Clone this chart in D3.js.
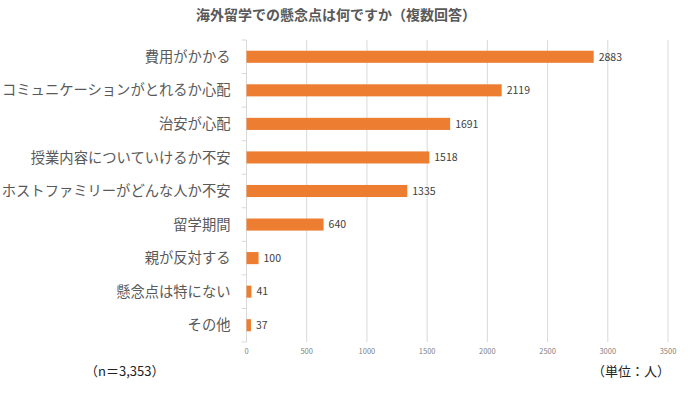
<!DOCTYPE html>
<html>
<head>
<meta charset="utf-8">
<script src="https://cdn.jsdelivr.net/npm/d3@7"></script>
<style>
  body { margin: 0; background: #fff; }
  text { font-family: "Noto Sans CJK JP", "Noto Sans", sans-serif; }
</style>
</head>
<body>
<div id="chart"></div>
<script>
const categories = [
  "費用がかかる",
  "コミュニケーションがとれるか心配",
  "治安が心配",
  "授業内容についていけるか不安",
  "ホストファミリーがどんな人か不安",
  "留学期間",
  "親が反対する",
  "懸念点は特にない",
  "その他"
];
const values = [2883, 2119, 1691, 1518, 1335, 640, 100, 41, 37];
const xTicks = [0, 500, 1000, 1500, 2000, 2500, 3000, 3500];

const width = 700, height = 394;
const margin = { top: 40, right: 32, bottom: 52, left: 246.5 };

const svg = d3.select("#chart")
    .append("svg")
    .attr("width", width)
    .attr("height", height);

const x = d3.scaleLinear()
    .domain([0, 3500])
    .range([margin.left, width - margin.right]);

const y = d3.scaleBand()
    .domain(categories)
    .range([margin.top, height - margin.bottom])
    .paddingInner(0.64)
    .paddingOuter(0.32);

// gridlines
svg.append("g")
    .selectAll("line")
    .data(xTicks.slice(1))
    .join("line")
    .attr("x1", d => x(d)).attr("x2", d => x(d))
    .attr("y1", margin.top).attr("y2", height - margin.bottom)
    .attr("stroke", "#d9d9d9")
    .attr("stroke-width", 1);

// x tick labels
svg.append("g")
    .selectAll("text")
    .data(xTicks)
    .join("text")
    .attr("x", d => x(d))
    .attr("y", height - margin.bottom + 12)
    .attr("text-anchor", "middle")
    .attr("font-size", 7.5)
    .attr("fill", "#7f7f7f")
    .text(d => d);

// y axis line + category separators
const sepData = d3.range(categories.length + 1).map(i => margin.top + i * (height - margin.top - margin.bottom) / categories.length);
svg.append("line")
    .attr("x1", x(0)).attr("x2", x(0))
    .attr("y1", margin.top).attr("y2", height - margin.bottom)
    .attr("stroke", "#d9d9d9");
svg.append("g")
    .selectAll("line")
    .data(sepData)
    .join("line")
    .attr("x1", x(0) - 5).attr("x2", x(0))
    .attr("y1", d => d).attr("y2", d => d)
    .attr("stroke", "#d9d9d9");

// category labels
svg.append("g")
    .selectAll("text")
    .data(categories)
    .join("text")
    .attr("x", x(0) - 16)
    .attr("y", d => y(d) + y.bandwidth() / 2)
    .attr("dy", "0.36em")
    .attr("text-anchor", "end")
    .attr("font-size", 14.3)
    .attr("fill", "#595959")
    .text(d => d);

// bars
svg.append("g")
    .selectAll("rect")
    .data(values)
    .join("rect")
    .attr("x", x(0))
    .attr("y", (d, i) => y(categories[i]))
    .attr("width", d => x(d) - x(0))
    .attr("height", y.bandwidth())
    .attr("fill", "#ed7d31");

// value labels
svg.append("g")
    .selectAll("text")
    .data(values)
    .join("text")
    .attr("x", d => x(d) + 5)
    .attr("y", (d, i) => y(categories[i]) + y.bandwidth() / 2)
    .attr("dy", "0.36em")
    .attr("font-size", 10.5)
    .attr("fill", "#404040")
    .text(d => d);

// title
svg.append("text")
    .attr("x", 336)
    .attr("y", 20)
    .attr("text-anchor", "middle")
    .attr("font-size", 14)
    .attr("font-weight", "bold")
    .attr("fill", "#595959")
    .text("海外留学での懸念点は何ですか（複数回答）");

// footer notes
svg.append("text")
    .attr("x", 85)
    .attr("y", 376)
    .attr("font-size", 13)
    .attr("fill", "#222")
    .text("（n＝3,353）");
svg.append("text")
    .attr("x", 670)
    .attr("y", 376)
    .attr("text-anchor", "end")
    .attr("font-size", 13)
    .attr("fill", "#222")
    .text("（単位：人）");
</script>
</body>
</html>
